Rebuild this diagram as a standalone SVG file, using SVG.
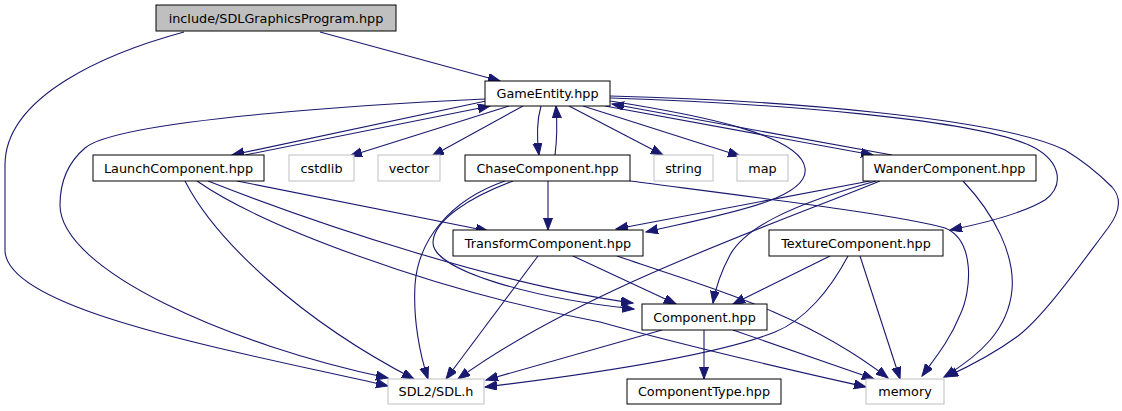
<svg xmlns="http://www.w3.org/2000/svg" width="1122" height="411" viewBox="0 0 1122 411">
<style>
.n rect{fill:#ffffff;stroke:#000000;stroke-width:1}
.n.g rect{stroke:#bfbfbf}
.n.r rect{fill:#bfbfbf}
.n text{font-family:"DejaVu Sans",sans-serif;font-size:12.8px;fill:#000000;text-anchor:middle}
#edges path{fill:none;stroke:#191970;stroke-width:1.1;marker-end:url(#ah)}
</style>
<defs>
<marker id="ah" markerUnits="userSpaceOnUse" markerWidth="14" markerHeight="11" refX="12" refY="4.5" orient="auto">
<path d="M0,0 L12,4.5 L0,9 z" fill="#191970" stroke="#191970" stroke-width="1"/>
</marker>
</defs>
<rect width="1122" height="411" fill="#ffffff"/>
<g id="edges">
<path d="M320,32 L500,81"/>
<path d="M184,32 C110,52 5,95 5,165 L5,250 C5,310 230,350 388,386"/>
<path d="M485,99 C400,103 120,118 85,148 C65,165 60,185 60,205 C60,270 230,345 388,378"/>
<path d="M486,101 L232,155"/>
<path d="M245,155 L490,106"/>
<path d="M509,106 L350,156"/>
<path d="M523,106 L432,156"/>
<path d="M541,106 C537,120 537,140 539,155"/>
<path d="M555,155 C557,140 557,120 556,106"/>
<path d="M569,106 L663,155"/>
<path d="M583,106 L740,156"/>
<path d="M610,101 C700,115 800,135 805,168 C810,200 720,215 646,232"/>
<path d="M605,106 L873,155"/>
<path d="M892,155 L612,104"/>
<path d="M610,98 C760,103 980,118 1035,148 C1060,162 1065,185 1045,200 C1020,215 980,224 950,230"/>
<path d="M610,96 C780,100 1000,118 1065,150 C1085,162 1100,175 1112,187 C1122,198 1120,212 1108,228 C1080,265 1045,315 1018,336 C995,353 970,366 946,377"/>
<path d="M185,181 C215,240 300,320 414,379"/>
<path d="M208,181 C320,225 500,285 633,303"/>
<path d="M197,181 C260,225 430,290 600,322 C700,350 800,372 866,387"/>
<path d="M237,181 L488,231"/>
<path d="M548,181 L548,230"/>
<path d="M505,181 C450,200 418,240 415,285 C413,320 420,355 428,379"/>
<path d="M513,181 C470,197 434,220 433,242 C432,270 530,298 634,309"/>
<path d="M630,181 C760,198 900,215 945,228 C975,240 972,290 960,315 C950,340 935,358 922,376"/>
<path d="M573,256 L676,304"/>
<path d="M538,256 L446,379"/>
<path d="M617,256 C700,285 800,310 888,378"/>
<path d="M870,181 L616,229"/>
<path d="M876,181 C790,205 745,228 730,255 C722,270 716,285 713,303"/>
<path d="M880,181 C780,222 580,290 458,379"/>
<path d="M830,256 L733,304"/>
<path d="M848,256 C830,290 805,320 775,332 C730,350 640,368 485,387"/>
<path d="M860,256 L900,379"/>
<path d="M963,181 C995,215 1015,255 1012,290 C1008,330 980,355 944,377"/>
<path d="M704,330 L704,379"/>
<path d="M662,330 L486,380"/>
<path d="M733,330 L874,379"/>
</g>
<g id="node-root" class="n r"><rect x="156" y="5" width="240" height="26"/><text x="276" y="22.5">include/SDLGraphicsProgram.hpp</text></g>
<g id="node-gameentity" class="n"><rect x="485" y="81" width="125" height="25"/><text x="547.5" y="98">GameEntity.hpp</text></g>
<g id="node-launch" class="n"><rect x="93" y="155" width="171" height="26"/><text x="178.5" y="172.5">LaunchComponent.hpp</text></g>
<g id="node-cstdlib" class="n g"><rect x="289" y="155" width="65" height="26"/><text x="321.5" y="172.5">cstdlib</text></g>
<g id="node-vector" class="n g"><rect x="378" y="155" width="62" height="26"/><text x="409" y="172.5">vector</text></g>
<g id="node-chase" class="n"><rect x="465" y="155" width="165" height="26"/><text x="547.5" y="172.5">ChaseComponent.hpp</text></g>
<g id="node-string" class="n g"><rect x="654" y="155" width="59" height="26"/><text x="683.5" y="172.5">string</text></g>
<g id="node-map" class="n g"><rect x="737" y="155" width="51" height="26"/><text x="762.5" y="172.5">map</text></g>
<g id="node-wander" class="n"><rect x="863" y="155" width="173" height="26"/><text x="949.5" y="172.5">WanderComponent.hpp</text></g>
<g id="node-transform" class="n"><rect x="453" y="230" width="190" height="26"/><text x="548" y="247.5">TransformComponent.hpp</text></g>
<g id="node-texture" class="n"><rect x="769" y="230" width="174" height="26"/><text x="856" y="247.5">TextureComponent.hpp</text></g>
<g id="node-component" class="n"><rect x="642" y="304" width="125" height="26"/><text x="704.5" y="321.5">Component.hpp</text></g>
<g id="node-componenttype" class="n"><rect x="627" y="379" width="154" height="25"/><text x="704" y="396">ComponentType.hpp</text></g>
<g id="node-memory" class="n g"><rect x="866" y="379" width="78" height="25"/><text x="905" y="396">memory</text></g>
<g id="node-sdl" class="n g"><rect x="388" y="379" width="96" height="25"/><text x="436" y="396">SDL2/SDL.h</text></g>
</svg>
